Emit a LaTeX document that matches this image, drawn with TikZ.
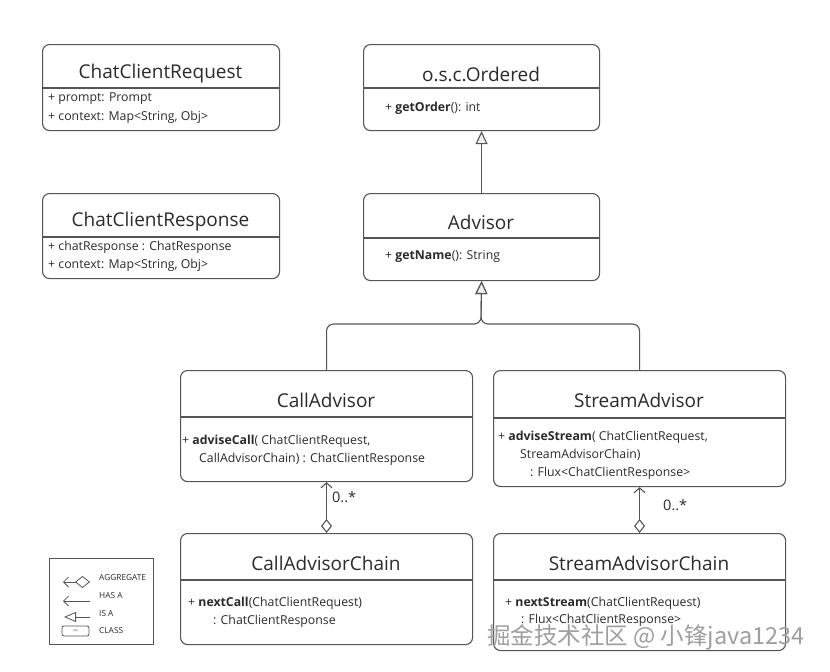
\documentclass[tikz,border=0pt]{standalone}
\usepackage{fontspec}
\setmainfont{Open Sans}
\newfontfamily\cjk{Noto Sans CJK SC}
\usetikzlibrary{arrows.meta}
\definecolor{ln}{HTML}{555555}
\definecolor{tx}{HTML}{2B2B2B}
\definecolor{tri}{HTML}{EEEEEE}
\newcommand\umlcls[6]{%
  \node[cls, minimum width=#4pt, minimum height=#5pt] (#1) at (#2,#3) {};
  \coordinate (#1d) at (0,#6);
  \draw[edge] (#1.west |- #1d) -- (#1.east |- #1d);}
\begin{document}
\begin{tikzpicture}[x=1pt,y=-1pt,
  cls/.style={draw=ln, line width=1.1pt, rounded corners=7pt, fill=white, anchor=north west, inner sep=0},
  edge/.style={draw=ln, line width=1.1pt},
  ttl/.style={font=\fontsize{19}{22}\selectfont, text=tx, inner sep=0},
  mem/.style={font=\fontsize{12.3}{14}\selectfont, text=tx, anchor=west, inner sep=0},
  lgt/.style={font=\fontsize{8.3}{9}\selectfont, text=tx, anchor=west, inner sep=0},
  isa/.style={edge, -{Triangle[open, fill=tri, length=13pt, width=12pt]}, rounded corners=7pt},
  agg/.style={edge, {Diamond[open, fill=white, length=14pt, width=11pt]}-{Straight Barb[length=5pt, width=11pt]}},
  mult/.style={font=\fontsize{14.5}{16}\selectfont, text=tx, anchor=west, inner sep=0}]
\useasboundingbox (0,0) rectangle (830,672);

% classes
\umlcls{req}{42}{44}{237}{86}{88}
\node[ttl] (reqt) at (160.5,74) {ChatClientRequest};
\node[mem] (reqm1) at (48,99) {+ prompt: Prompt};
\node[mem] (reqm2) at (48,117) {+ context: Map<String, Obj>};

\umlcls{res}{42}{193}{237}{85}{237}
\node[ttl] (rest) at (160.5,222) {ChatClientResponse};
\node[mem] (resm1) at (48,247) {+ chatResponse : ChatResponse};
\node[mem] (resm2) at (48,265) {+ context: Map<String, Obj>};

\umlcls{ord}{363}{44}{236}{86}{88}
\node[ttl] (ordt) at (481,74) {o.s.c.Ordered};
\node[mem] (ordm) at (385,108) {+ \textbf{getOrder}(): int};

\umlcls{adv}{363}{193}{236}{87}{238}
\node[ttl] (advt) at (481,222) {Advisor};
\node[mem] (advm) at (385,256) {+ \textbf{getName}(): String};

\umlcls{ca}{180}{370}{292}{111}{417}
\node[ttl] (cat) at (326,400) {CallAdvisor};
\node[mem] (cam1) at (182,441) {+ \textbf{adviseCall}( ChatClientRequest,};
\node[mem] (cam2) at (199,459) {CallAdvisorChain) : ChatClientResponse};

\umlcls{sa}{493}{370}{292}{116}{418}
\node[ttl] (sat) at (639,400) {StreamAdvisor};
\node[mem] (sam1) at (498,437) {+ \textbf{adviseStream}( ChatClientRequest,};
\node[mem] (sam2) at (520,455) {StreamAdvisorChain)};
\node[mem] (sam3) at (530,473) {: Flux<ChatClientResponse>};

\umlcls{cac}{180}{533}{292}{111}{580}
\node[ttl] (cact) at (326,563) {CallAdvisorChain};
\node[mem] (cacm1) at (188,603) {+ \textbf{nextCall}(ChatClientRequest)};
\node[mem] (cacm2) at (213,621) {: ChatClientResponse};

\umlcls{sac}{493}{533}{292}{117}{580}
\node[ttl] (sact) at (639,563) {StreamAdvisorChain};
\node[mem] (sacm1) at (505,603) {+ \textbf{nextStream}(ChatClientRequest)};
\node[mem] (sacm2) at (521,620) {: Flux<ChatClientResponse>};

% inheritance
\draw[isa] (adv.north) -- (ord.south);
\coordinate (j) at (481,324);
\draw[isa] (ca.north) |- (j) -- (adv.south);
\draw[isa] (sa.north) |- (j) -- (adv.south);

% aggregation
\draw[agg] (cac.north) -- (ca.south);
\draw[agg] (sac.north) -- (sa.south);
\node[mult] (m1) at (332,497) {0..*};
\node[mult] (m2) at (663,505) {0..*};

% legend
\node[draw=ln, line width=0.8pt, fill=white, anchor=north west, minimum width=104pt, minimum height=86pt, inner sep=0] (lg) at (49,558) {};
\coordinate (a1) at (63,582); \coordinate (a2) at (90,582);
\draw[edge, line width=0.8pt, {Straight Barb[length=5pt, width=10pt]}-{Diamond[open, fill=white, length=15pt, width=12pt]}] (a1) -- (a2);
\node[lgt] (lt1) at (99,578) {AGGREGATE};
\coordinate (h1) at (63,601); \coordinate (h2) at (90,601);
\draw[edge, line width=0.8pt, {Straight Barb[length=5pt, width=10pt]}-] (h1) -- (h2);
\node[lgt] (lt2) at (99,596) {HAS A};
\coordinate (i1) at (64,617); \coordinate (i2) at (90,617);
\draw[edge, line width=0.8pt, {Triangle[open, fill=white, length=12pt, width=10pt]}-] (i1) -- (i2);
\node[lgt] (lt3) at (99,614) {IS A};
\node[draw=ln, line width=0.8pt, rounded corners=2pt, minimum width=27pt, minimum height=10pt, inner sep=0, font=\fontsize{3}{4}\selectfont, text=tx] (lc) at (75.5,631) {xxx};
\node[lgt] (lt4) at (99,631) {CLASS};

% watermark
\node[anchor=west, inner sep=0, font=\cjk\fontsize{23.5}{26}\selectfont, text=gray!75] (wm) at (487,637) {掘金技术社区 @ 小锋java1234};
\end{tikzpicture}
\end{document}
